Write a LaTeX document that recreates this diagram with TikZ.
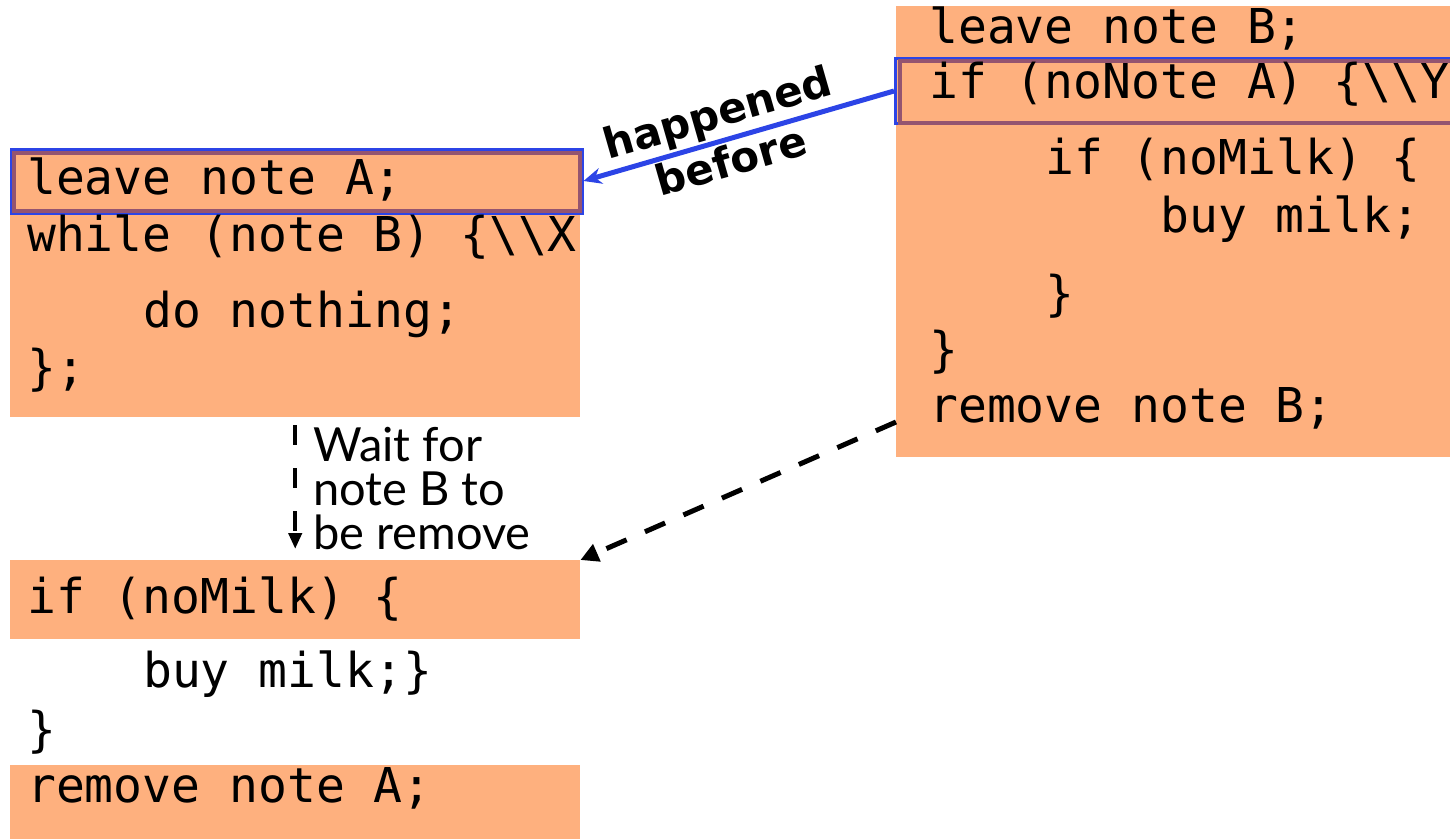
\documentclass[tikz,border=0pt]{standalone}
\usepackage{fontspec}
\setmonofont{DejaVu Sans Mono}
\setsansfont{DejaVu Sans}
\newfontfamily\notefont{Lato}
\usetikzlibrary{arrows.meta}
\definecolor{codeorange}{RGB}{254,176,126}
\definecolor{hlpurple}{RGB}{148,84,112}
\definecolor{hlblue}{RGB}{44,68,230}
\begin{document}
\begin{tikzpicture}[x=1pt, y=-1pt,
  block/.style={fill=codeorange, inner sep=0pt, anchor=north west},
  code/.style={font=\ttfamily\fontsize{48}{56}\selectfont, inner sep=0pt, anchor=base west},
  outerhl/.style={draw=hlblue, line width=3pt, inner sep=0pt, anchor=north west},
  innerhl/.style={draw=hlpurple, line width=4pt, inner sep=0pt, anchor=north west},
  hbarrow/.style={draw=hlblue, line width=5pt, -{Stealth[length=18pt, width=16pt]}},
  waitarrow/.style={line width=5pt, dash pattern=on 22pt off 20pt, -{Triangle[length=18pt, width=18pt]}},
  notearrow/.style={line width=4pt, dash pattern=on 20pt off 23pt, -{Triangle[length=16pt, width=13pt]}},
  hblabel/.style={font=\sffamily\bfseries\fontsize{42}{50}\selectfont, align=center, inner sep=0pt},
  notelbl/.style={font=\notefont\fontsize{47}{44}\selectfont, align=left, anchor=west, inner sep=0pt}]
\useasboundingbox (0,0) rectangle (1450,838);
\node[block, minimum width=570pt, minimum height=269pt] (threadA) at (10,148) {};
\node[block, minimum width=570pt, minimum height=79pt] (ifA) at (10,560) {};
\node[block, minimum width=570pt, minimum height=75pt] (rmA) at (10,765) {};
\node[block, minimum width=554pt, minimum height=451pt] (threadB) at (896,6) {};
\node[outerhl, minimum width=571pt, minimum height=64pt] (leaveA) at (9.5,147.5) {};
\node[innerhl, minimum width=566pt, minimum height=58pt] (leaveAin) at (12,151) {};
\node[outerhl, minimum width=576pt, minimum height=65pt] (ifNoteB) at (894,57) {};
\node[innerhl, minimum width=572pt, minimum height=62pt] (ifNoteBin) at (898,59) {};
\node[code] (lA1) at (27,194) {leave note A;};
\node[code] (lA2) at (27,251) {while (note B) \{\textbackslash\textbackslash X};
\node[code] (lA3) at (143,327) {do nothing;};
\node[code] (lA4) at (27,384) {\};};
\node[code] (lA5) at (27,613) {if (noMilk) \{};
\node[code] (lA6) at (143,687) {buy milk;\}};
\node[code] (lA7) at (27,746) {\}};
\node[code] (lA8) at (27,802) {remove note A;};
\node[code] (lB1) at (929,43) {leave note B;};
\node[code] (lB2) at (929,98) {if (noNote A) \{\textbackslash\textbackslash Y};
\node[code] (lB3) at (1045,174) {if (noMilk) \{};
\node[code] (lB4) at (1160,232) {buy milk;};
\node[code] (lB5) at (1045,310) {\}};
\node[code] (lB6) at (929,366) {\}};
\node[code] (rmB) at (929,422) {remove note B;};
\draw[hbarrow] (ifNoteB.west) -- (leaveA.east);
\node[hblabel, rotate=16] (hblbl) at (724,136) {happened\\before};
\draw[waitarrow] (threadB.west |- rmB.base) -- (ifA.north east);
\draw[notearrow] ([yshift=-8pt]threadA.south) -- ([yshift=11pt]ifA.north);
\node[notelbl] (waitlbl) at (313,489) {Wait for\\note B to\\be remove};
\end{tikzpicture}
\end{document}
